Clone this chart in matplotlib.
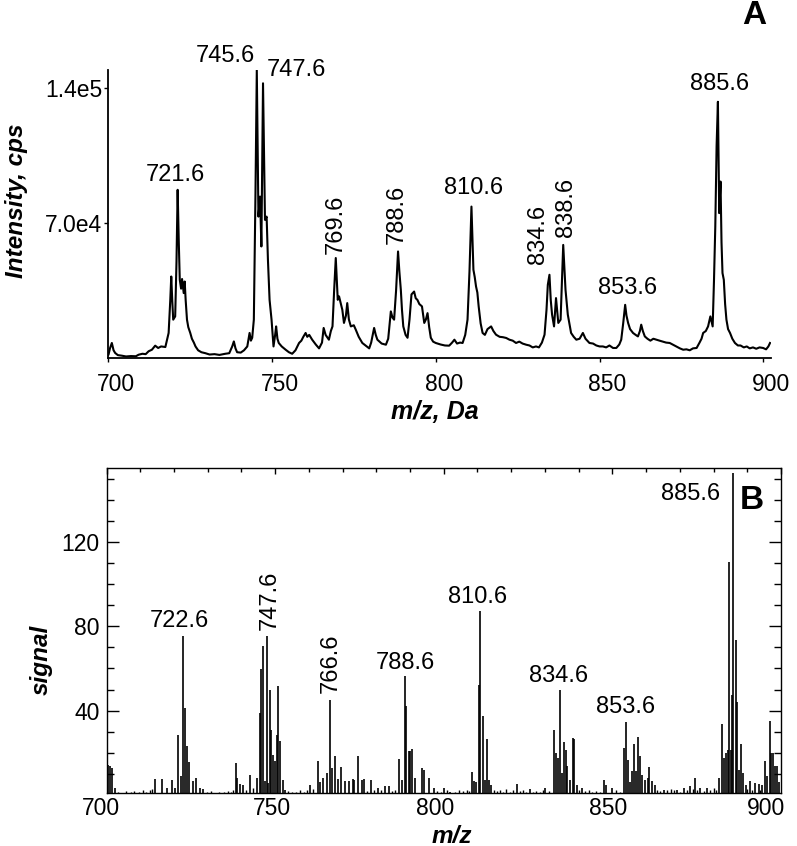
import matplotlib
matplotlib.use("Agg")
import matplotlib.pyplot as plt
from matplotlib.ticker import FixedLocator, MultipleLocator
from matplotlib.transforms import ScaledTranslation

plt.rcParams['font.family'] = ['Liberation Sans', 'DejaVu Sans']

# Panel A: profile spectrum, m/z vs intensity (x1000 cps)
mz_a = [700.0, 700.15, 700.6, 701.17, 701.7, 702.19, 703.0, 704.23, 705.5, 707.0,
        708.5, 709.33, 710.5, 711.5, 712.4, 713.4, 714.4, 715.3, 716.2, 717.5,
        718.5, 719.0, 719.3, 719.6, 719.9, 720.5, 720.9, 721.25, 721.6, 721.9,
        722.3, 722.6, 723.1, 723.4, 723.7, 724.1, 724.5, 725.1, 725.6, 726.2,
        726.7, 727.5, 728.5, 729.7, 731.0, 732.5, 734.0, 735.8, 737.0, 737.9,
        738.4, 738.9, 739.4, 740.5, 741.5, 742.5, 743.2, 743.6, 744.0, 744.5,
        745.0, 745.4, 745.9, 746.4, 746.8, 747.3, 747.9, 748.4, 748.8, 749.3,
        749.9, 750.5, 751.0, 751.3, 751.7, 752.1, 753.0, 754.2, 755.2, 756.2,
        757.2, 758.3, 759.0, 759.6, 760.3, 760.8, 761.4, 762.3, 763.4, 764.4,
        765.3, 765.8, 766.4, 767.4, 768.0, 768.5, 769.0, 769.5, 770.1, 770.5,
        771.0, 771.5, 772.0, 772.6, 773.0, 773.5, 774.1, 775.0, 775.6, 776.5,
        777.6, 778.6, 779.7, 780.3, 781.2, 781.7, 782.2, 783.5, 784.8, 785.5,
        786.3, 786.8, 787.3, 787.9, 788.5, 788.9, 789.35, 789.7, 790.1, 790.8,
        791.4, 792.0, 792.6, 793.4, 793.9, 794.4, 795.0, 795.8, 796.5, 797.0,
        797.5, 798.0, 798.5, 799.2, 800.0, 801.5, 802.8, 804.1, 805.0, 805.7,
        806.5, 807.4, 808.2, 809.0, 809.7, 810.3, 810.9, 811.5, 811.9, 812.3,
        812.7, 813.1, 813.7, 814.3, 815.0, 815.8, 816.9, 817.6, 818.4, 819.5,
        820.5, 821.5, 822.5, 823.5, 824.5, 825.5, 826.5, 827.6, 828.6, 829.6,
        830.6, 831.5, 832.4, 833.2, 833.8, 834.2, 834.7, 835.1, 835.5, 836.1,
        836.7, 837.1, 837.4, 838.1, 838.5, 838.9, 839.3, 839.6, 840.0, 840.3,
        841.3, 842.1, 842.9, 843.9, 844.9, 845.7, 846.9, 848.0, 849.0, 850.0,
        851.0, 852.0, 853.0, 854.1, 855.1, 856.0, 856.6, 857.2, 857.8, 858.2,
        858.7, 859.3, 860.2, 861.0, 861.7, 862.3, 862.7, 863.2, 863.8, 864.6,
        865.5, 866.4, 867.3, 868.3, 869.3, 870.3, 871.4, 872.3, 873.4, 874.5,
        875.5, 876.5, 877.5, 878.5, 879.6, 880.5, 881.1, 881.6, 882.4, 883.1,
        883.8, 884.5, 884.9, 885.3, 885.7, 886.1, 886.5, 886.9, 887.2, 887.5,
        887.9, 888.3, 888.7, 889.2, 889.8, 890.5, 891.3, 892.2, 893.0, 894.0,
        894.9, 895.8, 896.8, 897.8, 898.8, 899.9, 900.8, 901.5, 902.0]
int_a = [1.5, 1.7, 5.0, 7.8, 4.0, 2.6, 1.5, 1.2, 0.8, 1.0,
         0.9, 1.7, 2.2, 2.0, 3.5, 4.3, 6.4, 5.2, 6.0, 5.7,
         13.0, 30.0, 42.3, 30.0, 19.9, 21.6, 50.0, 87.3, 60.0, 40.6,
         36.0, 41.0, 33.7, 39.7, 30.0, 19.9, 16.0, 13.0, 10.0, 8.0,
         6.0, 4.0, 3.0, 2.5, 1.8, 2.0, 1.6, 2.2, 2.5, 6.0,
         8.6, 5.0, 3.0, 2.8, 4.0, 6.0, 13.0, 9.0, 10.5, 19.9,
         85.6, 149.5, 73.4, 83.8, 57.9, 142.6, 71.7, 73.4, 51.0, 30.2,
         19.9, 6.0, 12.0, 16.4, 10.0, 7.8, 6.0, 4.3, 3.0, 2.2,
         4.0, 7.8, 9.0, 11.0, 13.0, 11.0, 12.0, 9.5, 7.0, 5.0,
         8.0, 15.6, 12.0, 9.5, 14.0, 16.4, 35.0, 51.9, 30.2, 32.0,
         28.5, 25.0, 18.2, 22.0, 28.5, 20.0, 16.4, 17.0, 14.7, 11.0,
         7.8, 6.5, 5.0, 8.0, 15.6, 12.0, 9.5, 7.5, 6.9, 10.0,
         24.2, 21.0, 19.9, 35.0, 55.3, 45.0, 35.4, 25.0, 16.4, 12.0,
         10.5, 20.0, 33.0, 34.5, 31.0, 30.2, 28.0, 26.8, 18.2, 20.0,
         23.3, 16.0, 10.5, 8.5, 7.8, 7.0, 6.5, 6.4, 8.0, 9.5,
         7.5, 8.0, 7.8, 12.0, 19.9, 45.0, 78.6, 45.8, 42.0, 37.1,
         34.0, 26.8, 18.0, 13.0, 12.0, 15.0, 16.4, 14.0, 12.1, 11.0,
         10.8, 10.4, 9.5, 9.0, 7.8, 8.5, 7.5, 6.9, 6.5, 5.5,
         6.0, 5.5, 8.0, 12.1, 25.0, 38.0, 43.2, 30.0, 22.5, 16.4,
         31.1, 24.0, 18.2, 19.9, 40.0, 58.7, 45.0, 35.4, 28.0, 22.5,
         13.0, 11.0, 9.5, 10.0, 13.0, 10.0, 7.8, 7.5, 6.5, 6.0,
         6.0, 5.5, 6.5, 5.2, 5.2, 7.0, 9.5, 18.0, 27.6, 22.0,
         18.2, 15.0, 13.0, 12.0, 11.2, 14.0, 17.3, 14.0, 11.2, 10.0,
         9.0, 10.0, 9.5, 9.0, 8.5, 8.0, 7.8, 7.0, 6.0, 5.0,
         4.3, 4.5, 4.0, 5.0, 5.2, 8.0, 10.0, 13.0, 14.0, 16.4,
         21.6, 16.4, 40.0, 68.2, 110.0, 133.0, 75.2, 91.6, 60.0, 44.1,
         40.6, 28.0, 19.9, 15.0, 13.0, 10.0, 7.8, 6.5, 6.5, 5.5,
         6.0, 5.0, 5.5, 4.8, 5.5, 5.2, 4.5, 6.0, 7.8]

labels_a = ['721.6', '745.6', '747.6', '769.6', '788.6', '810.6', '834.6', '838.6', '853.6', '885.6']
label_x_a = [720.6, 735.9, 757.6, 769.6, 788.2, 811.5, 831.3, 839.9, 858.6, 886.7]
label_y_a = [95.0, 156.7, 149.5, 69.6, 74.8, 88.3, 63.9, 78.4, 36.5, 142.2]
label_rot_a = [0, 0, 0, 90, 90, 0, 90, 90, 0, 0]

# Panel B: stick spectrum, m/z vs signal
mz_b = [700.2, 700.5, 701.0, 701.6, 702.5, 714.4, 716.4, 717.9, 719.5, 720.3,
        721.3, 722.1, 722.7, 723.4, 723.8, 724.6, 725.6, 726.6, 727.7, 728.7,
        738.3, 738.8, 739.6, 740.6, 742.6, 744.6, 745.4, 745.9, 746.4, 746.9,
        747.6, 748.0, 748.4, 748.9, 749.4, 750.0, 750.5, 750.8, 751.5, 752.3,
        753.0, 760.4, 762.7, 763.4, 764.2, 765.3, 766.4, 767.0, 767.8, 768.5,
        769.5, 770.6, 771.8, 773.0, 773.5, 774.5, 775.7, 776.5, 778.4, 780.4,
        782.6, 783.7, 786.6, 787.6, 788.4, 788.8, 789.6, 790.1, 790.6, 791.5,
        793.5, 794.2, 795.5, 797.0, 800.0, 802.0, 808.4, 808.9, 809.5, 810.5,
        810.8, 811.5, 812.1, 812.8, 813.5, 814.1, 821.7, 825.7, 830.1, 832.6,
        833.4, 834.0, 834.6, 835.1, 835.7, 836.2, 836.6, 837.5, 838.3, 838.7,
        839.5, 841.0, 847.4, 848.2, 849.9, 853.4, 854.0, 854.6, 855.3, 855.8,
        856.5, 857.1, 857.7, 858.3, 858.9, 859.8, 860.5, 861.0, 861.8, 862.5,
        865.2, 869.2, 871.2, 873.0, 874.6, 876.1, 878.1, 881.5, 882.6, 883.2,
        883.8, 884.3, 884.7, 885.2, 885.5, 885.8, 886.6, 887.0, 887.5, 888.0,
        888.8, 889.5, 890.7, 892.4, 893.4, 894.4, 895.4, 895.9, 896.6, 896.9,
        897.5, 898.1, 898.9, 899.5]
sig_b = [9.0, 14.4, 13.6, 12.8, 3.3, 7.6, 7.6, 3.3, 7.3, 3.3,
         28.5, 8.9, 75.6, 41.3, 23.4, 15.5, 6.5, 8.1, 3.3, 2.8,
         15.2, 8.1, 5.4, 4.9, 9.6, 8.1, 38.9, 59.9, 70.5, 6.5,
         75.6, 5.7, 50.0, 30.7, 19.1, 16.0, 28.6, 51.9, 25.5, 7.0,
         2.5, 4.9, 16.4, 6.0, 8.1, 10.4, 44.9, 12.8, 18.3, 7.6,
         13.3, 6.5, 6.5, 7.6, 7.3, 18.3, 7.3, 7.6, 7.0, 3.3,
         4.1, 4.1, 17.2, 7.3, 56.3, 42.4, 20.7, 20.7, 21.8, 8.1,
         12.8, 12.0, 8.1, 3.3, 3.3, 1.7, 10.8, 6.5, 6.0, 52.3,
         87.1, 37.6, 7.3, 26.6, 7.0, 4.9, 5.4, 2.8, 3.3, 30.7,
         19.9, 17.5, 50.0, 10.4, 25.0, 21.5, 13.6, 7.3, 27.0, 26.6,
         4.9, 3.3, 7.0, 4.9, 3.3, 22.3, 34.5, 16.8, 6.0, 11.2,
         24.3, 11.2, 27.5, 18.3, 9.6, 7.3, 8.1, 13.3, 6.5, 4.9,
         2.5, 2.5, 3.3, 4.1, 8.1, 3.3, 3.3, 8.1, 33.8, 17.5,
         19.9, 21.5, 110.4, 21.5, 47.6, 152.4, 73.7, 44.0, 12.0, 24.3,
         10.4, 4.9, 6.5, 5.7, 5.4, 4.9, 16.0, 8.9, 34.9, 19.9,
         19.9, 13.9, 13.9, 6.0]

# low-level noise sticks along the baseline
mz_noise = [703.4, 704.6, 705.9, 707.2, 708.1, 709.5, 710.8, 711.7, 712.9, 713.6,
            729.8, 731.0, 732.4, 733.5, 734.7, 735.9, 736.8, 737.5, 741.3, 743.5,
            753.8, 755.0, 756.3, 757.5, 758.6, 759.5, 761.3, 777.3, 779.4, 781.5,
            784.8, 785.6, 798.1, 799.2, 801.0, 803.2, 804.6, 805.7, 806.9, 807.5,
            814.9, 815.8, 816.7, 817.6, 818.6, 819.5, 820.5, 822.6, 823.4, 824.3,
            826.6, 827.5, 828.4, 829.3, 831.2, 840.2, 842.0, 843.1, 844.0, 845.2,
            846.3, 851.1, 852.2, 863.3, 864.2, 866.1, 867.3, 868.2, 870.1, 872.1,
            874.0, 875.2, 877.1, 879.0, 880.1, 880.8, 889.9, 891.4, 893.9]
sig_noise = [1.5, 1.2, 1.8, 1.4, 2.0, 1.3, 2.5, 1.6, 2.2, 3.0,
             1.4, 1.8, 1.2, 1.5, 1.3, 2.0, 1.6, 2.4, 2.2, 3.5,
             1.8, 1.4, 1.6, 2.5, 1.5, 2.2, 3.0, 2.0, 2.6, 2.2,
             1.8, 2.5, 2.0, 1.6, 2.4, 1.5, 2.2, 1.8, 2.6, 1.9,
             2.4, 1.8, 2.6, 1.6, 2.8, 1.5, 2.2, 1.8, 2.5, 1.5,
             1.6, 2.0, 1.4, 2.3, 2.0, 2.4, 1.8, 2.6, 1.5, 2.0,
             1.7, 2.2, 1.6, 2.4, 1.8, 2.6, 2.8, 2.2, 1.7, 2.5,
             3.0, 2.4, 2.0, 2.6, 3.2, 2.4, 2.8, 2.2, 2.6]

labels_b = ['722.6', '747.6', '766.6', '788.6', '810.6', '834.6', '853.6', '885.6']
label_x_b = [721.5, 748.5, 766.6, 788.6, 809.9, 834.0, 853.9, 873.1]
label_y_b = [82.7, 92.2, 62.3, 62.8, 94.1, 56.6, 41.9, 142.9]
label_rot_b = [0, 90, 90, 0, 0, 0, 0, 0]

fig = plt.figure(figsize=(7.97, 8.46), dpi=100)

# ---- panel A ----
ax1 = fig.add_axes([108 / 797, 1 - 358 / 846, (771 - 108) / 797, (358 - 70) / 846])
ax1.plot(mz_a, [v * 1e3 for v in int_a], color='black', lw=1.5)
ax1.set_xlim(700, 902.3)
ax1.set_ylim(0, 1.495e5)
ax1.spines['top'].set_visible(False)
ax1.spines['right'].set_visible(False)
ax1.spines['left'].set_linewidth(1.3)
ax1.spines['bottom'].set_linewidth(1.3)
ax1.set_xticks([700, 750, 800, 850, 900])
ax1.yaxis.set_major_locator(FixedLocator([7.0e4, 1.4e5]))
ax1.set_yticklabels(['7.0e4', '1.4e5'])
ax1.tick_params(direction='out', length=3, width=1, labelsize=16.5)
ax1.tick_params(axis='x', pad=8)
ax1.tick_params(axis='y', pad=1)
shift = ScaledTranslation(8 / 100, 0, fig.dpi_scale_trans)
for lab in ax1.get_xticklabels():
    lab.set_transform(lab.get_transform() + shift)

for txt, x, y, r in zip(labels_a, label_x_a, label_y_a, label_rot_a):
    ax1.text(x, y * 1e3, txt, ha='center', va='center', rotation=r, fontsize=17)

fig.text(17 / 797, 1 - 201 / 846, 'Intensity, cps', rotation=90, ha='center', va='center',
         fontsize=17.5, fontweight='bold', fontstyle='italic')
fig.text(435 / 797, 1 - 412 / 846, 'm/z, Da', ha='center', va='center',
         fontsize=18, fontweight='bold', fontstyle='italic')
fig.text(754 / 797, 1 - 16 / 846, 'A', ha='center', va='center', fontsize=24, fontweight='bold')

# ---- panel B ----
ax2 = fig.add_axes([106.5 / 797, 1 - 793 / 846, (781 - 106.5) / 797, (793 - 468) / 846])
ax2.vlines(mz_noise, 0, sig_noise, color='black', lw=1.0)
ax2.vlines(mz_b, 0, sig_b, color='black', lw=1.2)
ax2.set_xlim(700, 900)
ax2.set_ylim(1.0, 155)
for s in ax2.spines.values():
    s.set_linewidth(1.0)
ax2.set_xticks([700, 750, 800, 850, 900])
ax2.xaxis.set_minor_locator(MultipleLocator(10))
ax2.yaxis.set_major_locator(FixedLocator([40, 80, 120]))
ax2.yaxis.set_minor_locator(MultipleLocator(10))
ax2.tick_params(axis='x', which='both', direction='in', bottom=False, top=True,
                labelbottom=True, labelsize=16.5, pad=3)
ax2.tick_params(axis='x', which='major', length=4.5, width=1)
ax2.tick_params(axis='x', which='minor', length=3, width=1)
ax2.tick_params(axis='y', which='both', direction='in', left=True, right=True,
                labelsize=16.5, pad=5)
ax2.tick_params(axis='y', which='major', length=8.5, width=1)
ax2.tick_params(axis='y', which='minor', length=5, width=1)
# tick labels in the original sit slightly left of their ticks
for lab, dx in zip(ax2.get_xticklabels(), [-6, -3, -9, -4, -15]):
    lab.set_transform(lab.get_transform() + ScaledTranslation(dx / 100, 0, fig.dpi_scale_trans))

for txt, x, y, r in zip(labels_b, label_x_b, label_y_b, label_rot_b):
    ax2.text(x, y, txt, ha='center', va='center', rotation=r, fontsize=17)

fig.text(41 / 797, 1 - 660 / 846, 'signal', rotation=90, ha='center', va='center',
         fontsize=17.5, fontweight='bold', fontstyle='italic')
fig.text(452 / 797, 1 - 836 / 846, 'm/z', ha='center', va='center',
         fontsize=17.5, fontweight='bold', fontstyle='italic')
fig.text(752 / 797, 1 - 500 / 846, 'B', ha='center', va='center', fontsize=24, fontweight='bold')

fig.savefig('out.png', dpi=100)
